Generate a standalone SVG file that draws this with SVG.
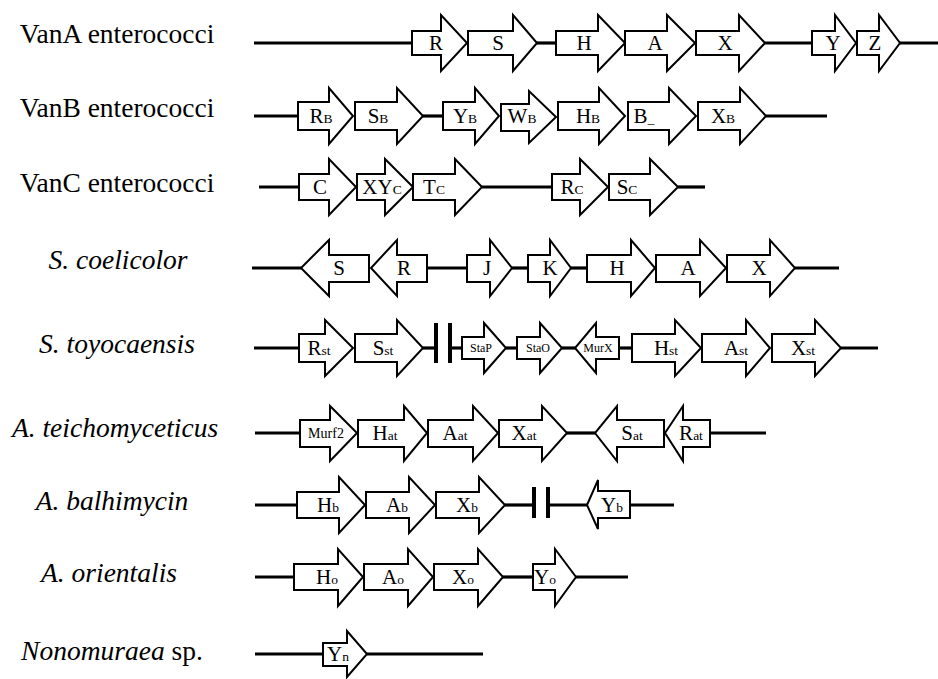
<svg xmlns="http://www.w3.org/2000/svg" width="938" height="679" viewBox="0 0 938 679">
<style>
.g{fill:#fff;stroke:#000;stroke-width:2;stroke-linejoin:miter}
.bb{stroke:#000;stroke-width:3.2;fill:none}
.br{stroke:#000;stroke-width:4;fill:none}
.lt{font-family:"Liberation Serif","Times New Roman",serif;font-size:27.5px;fill:#000;text-anchor:middle}
.it{font-style:italic}
.t{font-family:"Liberation Serif","Times New Roman",serif;font-size:21px;fill:#000;text-anchor:middle}
.s{font-size:13.5px}
.sm{font-family:"Liberation Serif","Times New Roman",serif;font-size:12px;fill:#000;text-anchor:middle}
</style>
<rect width="938" height="679" fill="#fff"/>
<g id="row-labels">
<text class="lt" x="117" y="43">VanA enterococci</text>
<text class="lt" x="117" y="117">VanB enterococci</text>
<text class="lt" x="117" y="192">VanC enterococci</text>
<text class="lt it" x="118" y="269">S. coelicolor</text>
<text class="lt it" x="117" y="353">S. toyocaensis</text>
<text class="lt it" x="115" y="437">A. teichomyceticus</text>
<text class="lt it" x="112" y="510">A. balhimycin</text>
<text class="lt it" x="109" y="582">A. orientalis</text>
<text class="lt" x="112" y="660"><tspan class="it">Nonomuraea</tspan> sp.</text>
</g>
<g id="connectors">
<line class="bb" x1="254" y1="43" x2="412" y2="43"/>
<line class="bb" x1="537" y1="43" x2="556" y2="43"/>
<line class="bb" x1="765" y1="43" x2="812" y2="43"/>
<line class="bb" x1="900" y1="43" x2="938" y2="43"/>
<line class="bb" x1="254" y1="116" x2="298" y2="116"/>
<line class="bb" x1="423" y1="116" x2="443" y2="116"/>
<line class="bb" x1="766" y1="116" x2="827" y2="116"/>
<line class="bb" x1="259" y1="187" x2="299" y2="187"/>
<line class="bb" x1="482" y1="187" x2="552" y2="187"/>
<line class="bb" x1="678" y1="187" x2="705" y2="187"/>
<line class="bb" x1="252" y1="268" x2="301" y2="268"/>
<line class="bb" x1="427" y1="268" x2="467" y2="268"/>
<line class="bb" x1="512" y1="268" x2="528" y2="268"/>
<line class="bb" x1="571" y1="268" x2="587" y2="268"/>
<line class="bb" x1="795" y1="268" x2="839" y2="268"/>
<line class="bb" x1="254" y1="348" x2="299" y2="348"/>
<line class="bb" x1="423" y1="348" x2="436" y2="348"/>
<line class="bb" x1="450" y1="348" x2="462" y2="348"/>
<line class="bb" x1="506" y1="348" x2="517" y2="348"/>
<line class="bb" x1="562" y1="348" x2="575" y2="348"/>
<line class="bb" x1="619" y1="348" x2="632" y2="348"/>
<line class="bb" x1="841" y1="348" x2="878" y2="348"/>
<line class="br" x1="436" y1="323" x2="436" y2="363"/>
<line class="br" x1="450" y1="323" x2="450" y2="363"/>
<line class="bb" x1="255" y1="433" x2="300" y2="433"/>
<line class="bb" x1="567" y1="433" x2="595" y2="433"/>
<line class="bb" x1="710" y1="433" x2="766" y2="433"/>
<line class="bb" x1="255" y1="505" x2="297" y2="505"/>
<line class="bb" x1="505" y1="505" x2="534" y2="505"/>
<line class="bb" x1="548" y1="505" x2="587" y2="505"/>
<line class="bb" x1="630" y1="505" x2="674" y2="505"/>
<line class="br" x1="534" y1="487" x2="534" y2="518"/>
<line class="br" x1="548" y1="487" x2="548" y2="518"/>
<line class="bb" x1="255" y1="577" x2="294" y2="577"/>
<line class="bb" x1="503" y1="577" x2="533" y2="577"/>
<line class="bb" x1="576" y1="577" x2="628" y2="577"/>
<line class="bb" x1="255" y1="654" x2="323" y2="654"/>
<line class="bb" x1="367" y1="654" x2="483" y2="654"/>
</g>
<!-- Row 1 VanA -->
<g id="vanA-R"><path class="g" d="M412,31H441V15L467,43L441,71V55H412Z"/><text class="t" x="436" y="50">R</text></g>
<g id="vanA-S"><path class="g" d="M468,31H513V15L537,43L513,71V55H468Z"/><text class="t" x="498" y="50">S</text></g>
<g id="vanA-H"><path class="g" d="M556,31H598V15L625,43L598,71V55H556Z"/><text class="t" x="584" y="50">H</text></g>
<g id="vanA-A"><path class="g" d="M625,31H667V15L695,43L667,71V55H625Z"/><text class="t" x="655" y="50">A</text></g>
<g id="vanA-X"><path class="g" d="M696,31H739V15L765,43L739,71V55H696Z"/><text class="t" x="725" y="50">X</text></g>
<g id="vanA-Y"><path class="g" d="M812,31H835V15L856,43L835,71V55H812Z"/><text class="t" x="833" y="50">Y</text></g>
<g id="vanA-Z"><path class="g" d="M857,31H879V15L900,43L879,71V55H857Z"/><text class="t" x="875" y="50">Z</text></g>
<!-- Row 2 VanB -->
<g id="vanB-R"><path class="g" d="M298,102H329V88L353,116L329,144V130H298Z"/><text class="t" x="321" y="123">R<tspan class="s">B</tspan></text></g>
<g id="vanB-S"><path class="g" d="M355,102H397V88L423,116L397,144V130H355Z"/><text class="t" x="378" y="123">S<tspan class="s">B</tspan></text></g>
<g id="vanB-Y"><path class="g" d="M443,102H475V88L499,116L475,144V130H443Z"/><text class="t" x="465" y="123">Y<tspan class="s">B</tspan></text></g>
<g id="vanB-W"><path class="g" d="M501,104H529V91L556,117L529,143V131H501Z"/><text class="t" x="522" y="123">W<tspan class="s">B</tspan></text></g>
<g id="vanB-H"><path class="g" d="M558,102H599V88L625,116L599,144V130H558Z"/><text class="t" x="588" y="123">H<tspan class="s">B</tspan></text></g>
<g id="vanB-B"><path class="g" d="M628,102H669V88L696,116L669,144V130H628Z"/><text class="t" x="644" y="123">B<tspan class="s">_</tspan></text></g>
<g id="vanB-X"><path class="g" d="M698,102H740V88L766,116L740,144V130H698Z"/><text class="t" x="723" y="123">X<tspan class="s">B</tspan></text></g>
<!-- Row 3 VanC -->
<g id="vanC-C"><path class="g" d="M299,174H329V159L356,187L329,215V200H299Z"/><text class="t" x="320" y="194">C</text></g>
<g id="vanC-XY"><path class="g" d="M357,174H385V159L413,187L385,215V200H357Z"/><text class="t" x="382" y="194">XY<tspan class="s">C</tspan></text></g>
<g id="vanC-T"><path class="g" d="M413,174H455V159L482,187L455,215V200H413Z"/><text class="t" x="434" y="194">T<tspan class="s">C</tspan></text></g>
<g id="vanC-R"><path class="g" d="M552,174H580V159L608,187L580,215V200H552Z"/><text class="t" x="572" y="194">R<tspan class="s">C</tspan></text></g>
<g id="vanC-S"><path class="g" d="M609,174H650V159L678,187L650,215V200H609Z"/><text class="t" x="627" y="194">S<tspan class="s">C</tspan></text></g>
<!-- Row 4 S. coelicolor -->
<g id="sc-S"><path class="g" d="M369,255H329V240L301,268L329,296V282H369Z"/><text class="t" x="339" y="275">S</text></g>
<g id="sc-R"><path class="g" d="M427,255H397V240L371,268L397,296V282H427Z"/><text class="t" x="404" y="275">R</text></g>
<g id="sc-J"><path class="g" d="M467,255H490V240L512,268L490,296V282H467Z"/><text class="t" x="487" y="275">J</text></g>
<g id="sc-K"><path class="g" d="M528,255H550V240L571,268L550,296V282H528Z"/><text class="t" x="550" y="275">K</text></g>
<g id="sc-H"><path class="g" d="M587,255H631V240L655,268L631,296V282H587Z"/><text class="t" x="617" y="275">H</text></g>
<g id="sc-A"><path class="g" d="M656,255H700V240L726,268L700,296V282H656Z"/><text class="t" x="688" y="275">A</text></g>
<g id="sc-X"><path class="g" d="M727,255H770V240L795,268L770,296V282H727Z"/><text class="t" x="759" y="275">X</text></g>
<!-- Row 5 S. toyocaensis -->
<g id="st-R"><path class="g" d="M299,334H325V320L353,348L325,376V362H299Z"/><text class="t" x="319" y="355">R<tspan class="s">st</tspan></text></g>
<g id="st-S"><path class="g" d="M355,334H397V320L423,348L397,376V362H355Z"/><text class="t" x="383" y="355">S<tspan class="s">st</tspan></text></g>
<g id="st-StaP"><path class="g" d="M462,337H484V323L506,348L484,373V359H462Z"/><text class="sm" x="481" y="352">StaP</text></g>
<g id="st-StaO"><path class="g" d="M517,337H540V323L562,348L540,373V359H517Z"/><text class="sm" x="538" y="352">StaO</text></g>
<g id="st-MurX"><path class="g" d="M619,337H596V323L575,348L596,373V359H619Z"/><text class="sm" x="598" y="352">MurX</text></g>
<g id="st-H"><path class="g" d="M632,334H675V320L701,348L675,376V362H632Z"/><text class="t" x="666" y="355">H<tspan class="s">st</tspan></text></g>
<g id="st-A"><path class="g" d="M702,334H746V320L770,348L746,376V362H702Z"/><text class="t" x="736" y="355">A<tspan class="s">st</tspan></text></g>
<g id="st-X"><path class="g" d="M772,334H815V320L841,348L815,376V362H772Z"/><text class="t" x="803" y="355">X<tspan class="s">st</tspan></text></g>
<!-- Row 6 A. teichomyceticus -->
<g id="at-Murf2"><path class="g" d="M300,420H330V406L357,433L330,461V447H300Z"/><text class="sm" x="326" y="438" style="font-size:14px">Murf2</text></g>
<g id="at-H"><path class="g" d="M358,420H404V406L427,433L404,461V447H358Z"/><text class="t" x="385" y="440">H<tspan class="s">at</tspan></text></g>
<g id="at-A"><path class="g" d="M428,420H473V406L498,433L473,461V447H428Z"/><text class="t" x="455" y="440">A<tspan class="s">at</tspan></text></g>
<g id="at-X"><path class="g" d="M499,420H542V406L567,433L542,461V447H499Z"/><text class="t" x="524" y="440">X<tspan class="s">at</tspan></text></g>
<g id="at-S"><path class="g" d="M664,420H617V406L595,433L617,461V447H664Z"/><text class="t" x="632" y="440">S<tspan class="s">at</tspan></text></g>
<g id="at-R"><path class="g" d="M710,420H683V406L665,433L683,461V447H710Z"/><text class="t" x="691" y="440">R<tspan class="s">at</tspan></text></g>
<!-- Row 7 A. balhimycin -->
<g id="ab-H"><path class="g" d="M297,492H339V477L365,505L339,533V518H297Z"/><text class="t" x="328" y="512">H<tspan class="s">b</tspan></text></g>
<g id="ab-A"><path class="g" d="M366,492H409V477L435,505L409,533V518H366Z"/><text class="t" x="397" y="512">A<tspan class="s">b</tspan></text></g>
<g id="ab-X"><path class="g" d="M436,492H479V477L505,505L479,533V518H436Z"/><text class="t" x="467" y="512">X<tspan class="s">b</tspan></text></g>
<g id="ab-Y"><path class="g" d="M630,491H598V480L587,505L598,529V518H630Z"/><text class="t" x="612" y="512">Y<tspan class="s">b</tspan></text></g>
<!-- Row 8 A. orientalis -->
<g id="ao-H"><path class="g" d="M294,564H338V549L363,577L338,606V590H294Z"/><text class="t" x="327" y="584">H<tspan class="s">o</tspan></text></g>
<g id="ao-A"><path class="g" d="M364,564H408V549L433,577L408,606V590H364Z"/><text class="t" x="393" y="584">A<tspan class="s">o</tspan></text></g>
<g id="ao-X"><path class="g" d="M434,564H478V549L503,577L478,606V590H434Z"/><text class="t" x="463" y="584">X<tspan class="s">o</tspan></text></g>
<g id="ao-Y"><path class="g" d="M533,564H555V549L576,577L555,606V590H533Z"/><text class="t" x="545" y="584">Y<tspan class="s">o</tspan></text></g>
<!-- Row 9 Nonomuraea -->
<g id="nm-Y"><path class="g" d="M323,643H347V631L367,654L347,677V666H323Z"/><text class="t" x="338" y="661">Y<tspan class="s">n</tspan></text></g>
</svg>
